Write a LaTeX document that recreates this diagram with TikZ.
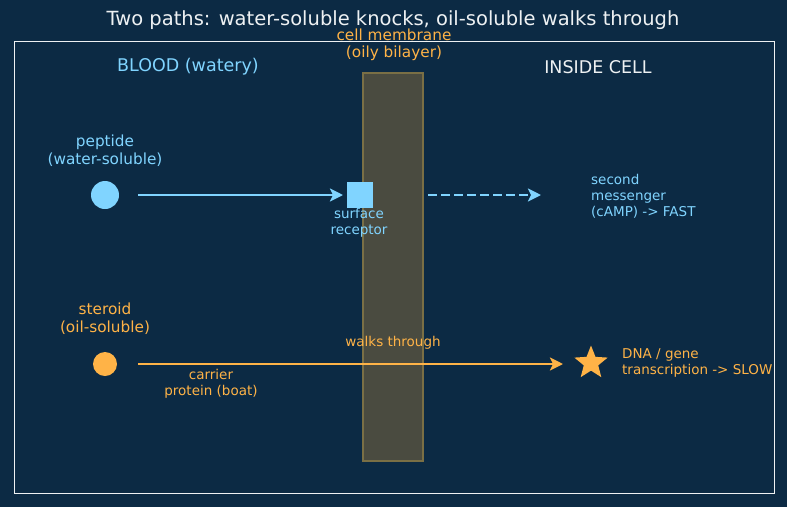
\documentclass[tikz,border=0pt]{standalone}
\usepackage{fontspec}
\setmainfont{DejaVu Sans}
\usepackage{xcolor}
\usepackage{tikz}
\usetikzlibrary{shapes.geometric,arrows.meta,positioning,calc}

\definecolor{bgnavy}{HTML}{0C2A44}
\definecolor{waterblue}{HTML}{80D4FF}
\definecolor{oilorange}{HTML}{FFB347}
\definecolor{membfill}{HTML}{4A4B40}
\definecolor{membedge}{HTML}{7A6F45}
\definecolor{paleline}{HTML}{EEF1F3}

\tikzset{
    lbl/.style={align=center, inner sep=0pt, font=\fontsize{15.3}{18}\selectfont},
    small/.style={align=center, inner sep=0pt, font=\fontsize{13.5}{16}\selectfont},
    flow/.style={line width=2.5pt, -{Stealth[length=13pt,width=13pt,inset=3pt]}},
}

\begin{document}
\begin{tikzpicture}[x=1pt, y=-1pt]
        \useasboundingbox[fill=bgnavy] (0,0) rectangle (787,507);
        % frame and title
        \draw[paleline, line width=1pt] (14,41) rectangle (774,493);
        \node[paleline, inner sep=0pt, font=\fontsize{19.5}{22}\selectfont] (title) at (393,20.5) {Two paths: water-soluble knocks, oil-soluble walks through};

        % the two sides
        \node[waterblue, lbl, font=\fontsize{17.5}{20}\selectfont] (blood) at (188,67) {BLOOD (watery)};
        \node[paleline, lbl, font=\fontsize{17.5}{20}\selectfont] (inside) at (598,67) {INSIDE CELL};

        % membrane
        \draw[fill=membfill, draw=membedge, line width=1.2pt] (363,73) rectangle (423,461);
        \node[oilorange, lbl, font=\fontsize{15.3}{16.5}\selectfont] (membrane) at (394,45) {cell membrane\\(oily bilayer)};

        % peptide path
        \node[waterblue, lbl] (peptidelbl) at (105,151) {peptide\\(water-soluble)};
        \node[circle, fill=waterblue, minimum size=28pt, inner sep=0pt] (peptide) at (105,195) {};
        \node[rectangle, fill=waterblue, minimum size=26pt, inner sep=0pt] (receptor) at (360,195) {};
        \node[waterblue, small] (receptorlbl) at (359,223) {surface\\receptor};
        \coordinate (signal) at (541,195);
        \node[waterblue, small, align=left, anchor=west] (messenger) at (591,196) {second\\messenger\\(cAMP) -> FAST};
        \draw[flow, waterblue, shorten <=33pt, shorten >=17pt] (peptide.center) -- (receptor.center);
        \draw[flow, waterblue, dash pattern=on 9pt off 4pt, shorten <=68pt] (receptor.center) -- (signal);

        % steroid path
        \node[oilorange, lbl] (steroidlbl) at (105,319) {steroid\\(oil-soluble)};
        \node[circle, fill=oilorange, minimum size=24pt, inner sep=0pt] (steroid) at (105,364) {};
        \node[star, star points=5, star point ratio=2.3, fill=oilorange, minimum size=35pt, inner sep=0pt] (gene) at (591,363) {};
        \node[oilorange, small, align=left, anchor=west] (genelbl) at (622,363) {DNA / gene\\transcription -> SLOW};
        \node[oilorange, small] (carrier) at (211,384) {carrier\\protein (boat)};
        \node[oilorange, small] (walks) at (393,343) {walks through};
        \draw[flow, oilorange, shorten <=33pt, shorten >=28pt] (steroid.center) -- (gene.center |- steroid.center);
    \end{tikzpicture}
\end{document}
